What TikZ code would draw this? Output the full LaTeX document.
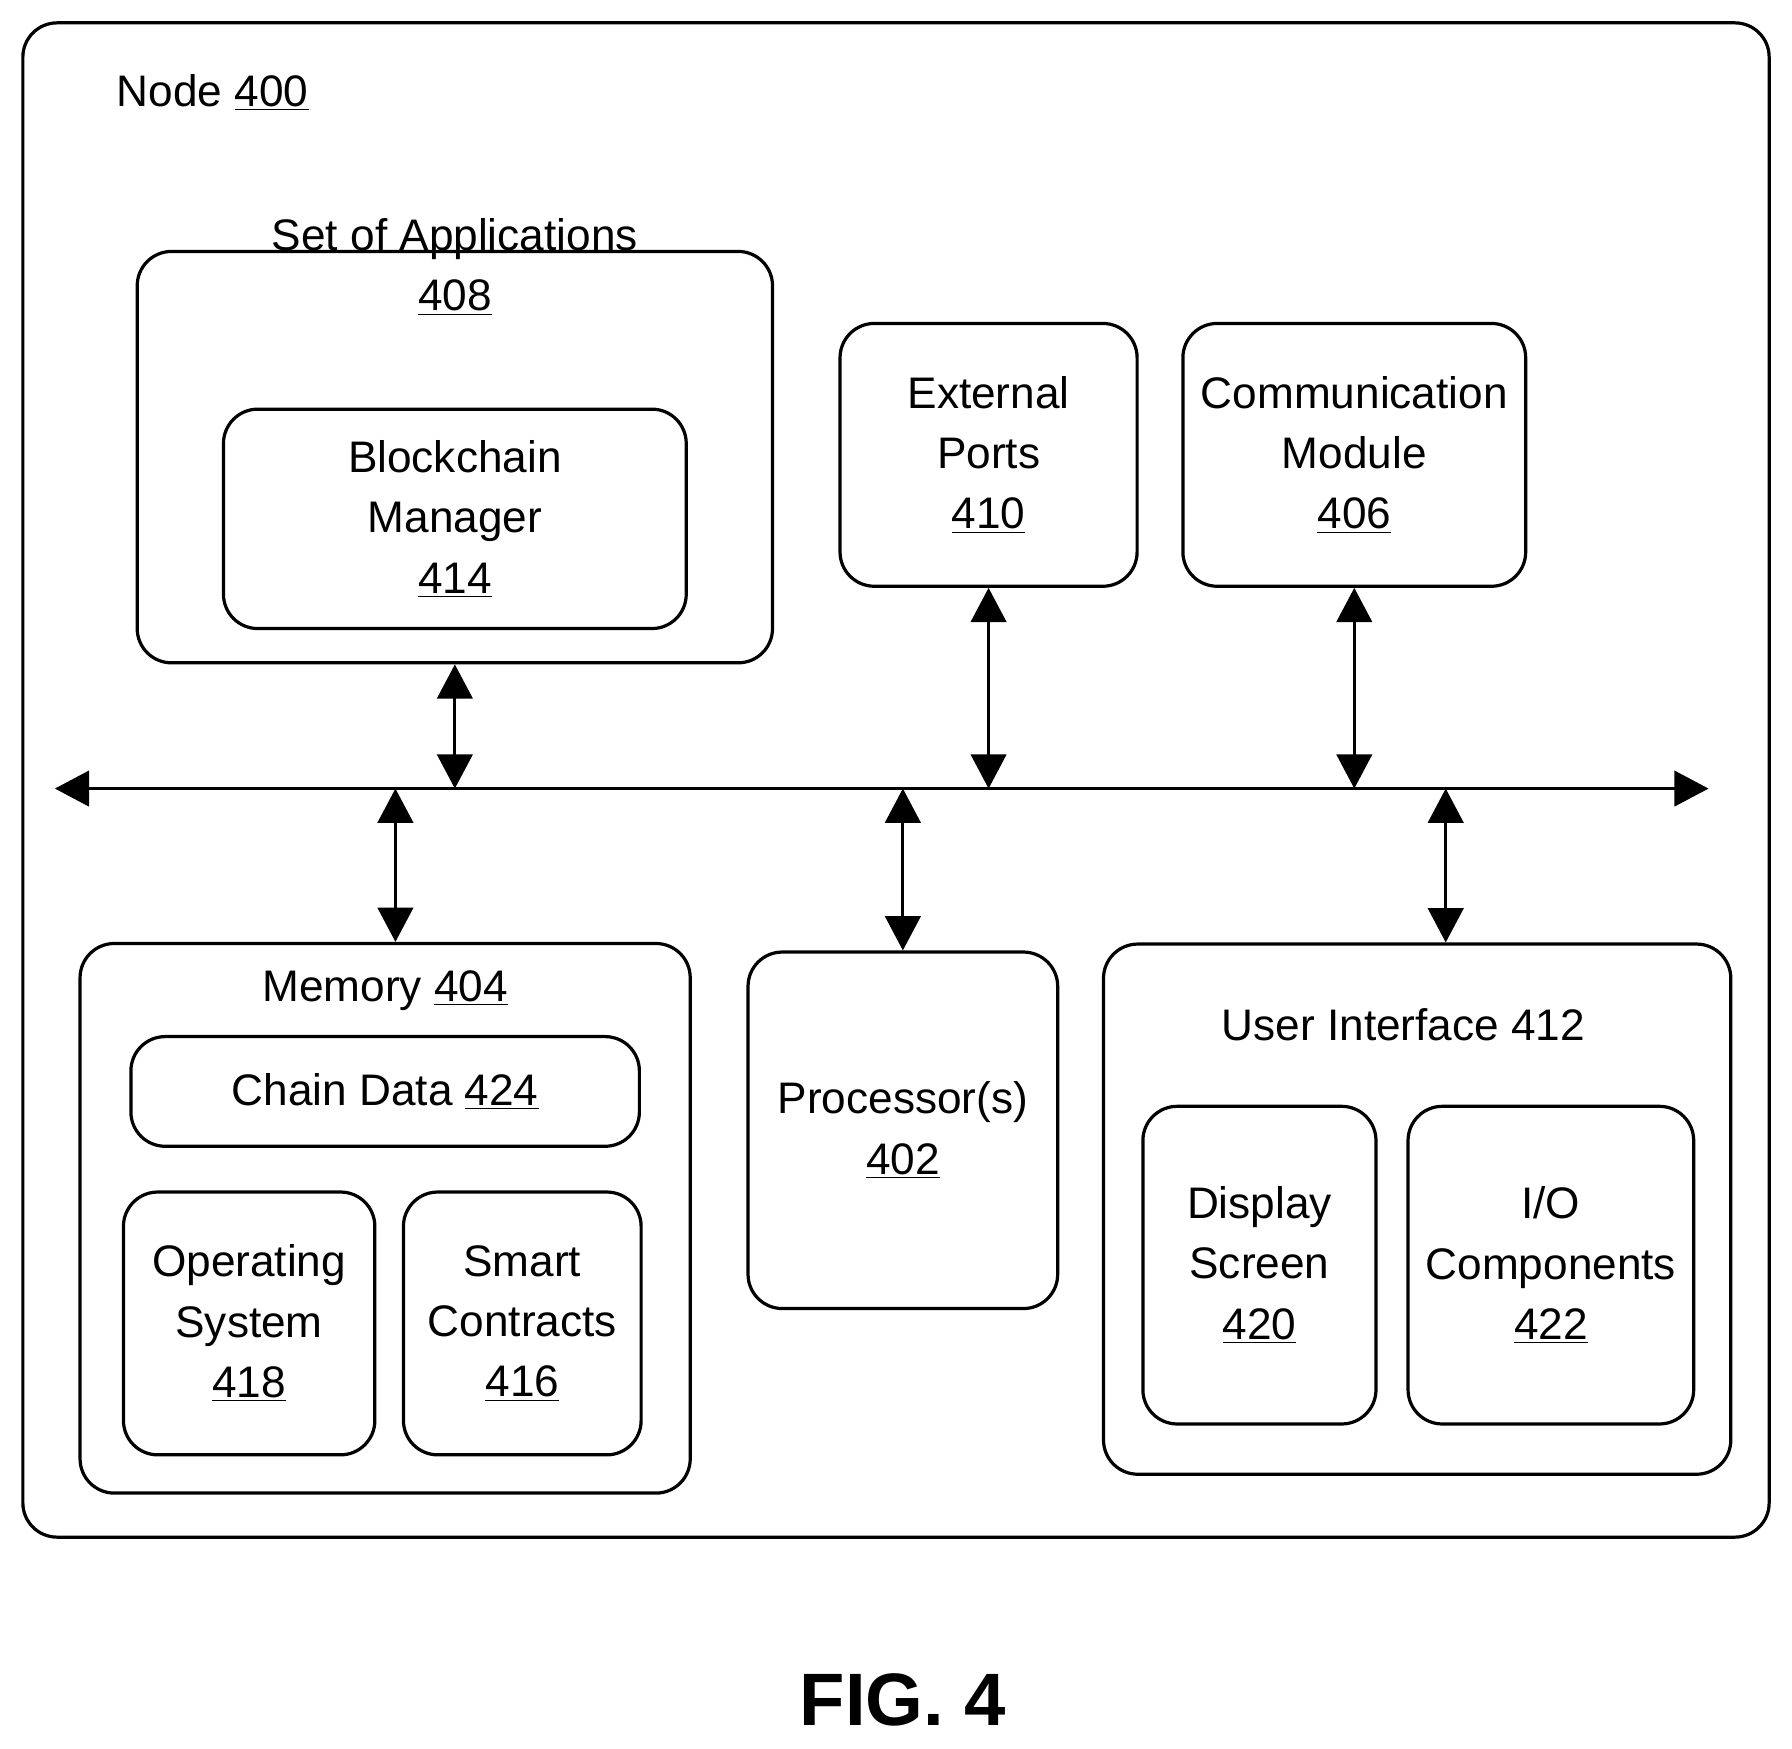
\documentclass[tikz,border=0pt]{standalone}
\usepackage{fontspec}
\setmainfont{Liberation Sans}
\usetikzlibrary{arrows.meta}
\tikzset{
	box/.style = {draw = black, line width = 1.6pt, rounded corners = 0.6cm, inner sep = 0pt},
	txt/.style = {align = center, inner sep = 0pt, font = \fontsize{22}{30}\selectfont},
	link/.style = {{Triangle[length=0.6cm,width=0.62cm]}-{Triangle[length=0.6cm,width=0.62cm]}, line width = 1.6pt}
}
\begin{document}
\begin{tikzpicture}[x = 0.02cm, y = -0.02cm]
	\useasboundingbox (0,0) rectangle (1568,1530);
	
	%% outer node
	\draw [box] (20,20) rectangle (1548,1345);
	\node (title) [txt, anchor = base west] at (102,93) {Node \underline{400}};
	
	%% top row
	\node (apps) [box, minimum width = 11.12cm, minimum height = 7.2cm] at (398,400) {};
	\node (appstxt) [txt, anchor = base] at (398,272) {Set of Applications\\\underline{408}};
	\node (bcm) [box, txt, minimum width = 8.1cm, minimum height = 3.84cm] at (398,454) {Blockchain\\Manager\\\underline{414}};
	\node (ports) [box, txt, minimum width = 5.2cm, minimum height = 4.6cm] at (865,398) {External\\Ports\\\underline{410}};
	\node (comm) [box, txt, minimum width = 6cm, minimum height = 4.6cm] at (1185,398) {Communication\\Module\\\underline{406}};
	
	%% bottom row
	\node (mem) [box, minimum width = 10.68cm, minimum height = 9.62cm] at (337,1066) {};
	\node (memtxt) [txt, anchor = base] at (337,876) {Memory \underline{404}};
	\node (chain) [box, txt, minimum width = 8.9cm, minimum height = 1.92cm] at (337,955) {Chain Data \underline{424}};
	\node (os) [box, txt, minimum width = 4.4cm, minimum height = 4.6cm] at (218,1158) {Operating\\System\\\underline{418}};
	\node (smart) [box, txt, minimum width = 4.16cm, minimum height = 4.6cm] at (457,1158) {Smart\\Contracts\\\underline{416}};
	\node (proc) [box, txt, minimum width = 5.42cm, minimum height = 6.24cm] at (790,989) {Processor(s)\\\underline{402}};
	\node (ui) [box, minimum width = 10.98cm, minimum height = 9.28cm] at (1240,1058) {};
	\node (uitxt) [txt, anchor = base] at (1228,910) {User Interface 412};
	\node (disp) [box, txt, minimum width = 4.08cm, minimum height = 5.56cm] at (1102,1107) {Display\\Screen\\\underline{420}};
	\node (io) [box, txt, minimum width = 5cm, minimum height = 5.56cm] at (1357,1107) {I/O\\Components\\\underline{422}};
	
	\node (fig) [inner sep = 0pt, font = \fontsize{37}{40}\selectfont\bfseries] at (790,1487) {FIG. 4};
	
	%% bus
	\coordinate (busL) at (48,690);
	\coordinate (busR) at (1495,690);
	\foreach \name/\xx in {bapps/398, bports/865, bcomm/1185, bmem/346, bproc/790, bui/1265}
		\coordinate (\name) at (\xx,690);
	
	%% arrows
	\draw [link] (busL) -- (busR);
	\draw [link] (apps.south -| bapps) -- (bapps);
	\draw [link] (ports.south) -- (bports);
	\draw [link] (comm.south) -- (bcomm);
	\draw [link] (bmem) -- (mem.north -| bmem);
	\draw [link] (bproc) -- (proc.north);
	\draw [link] (bui) -- (ui.north -| bui);
\end{tikzpicture}
\end{document}
